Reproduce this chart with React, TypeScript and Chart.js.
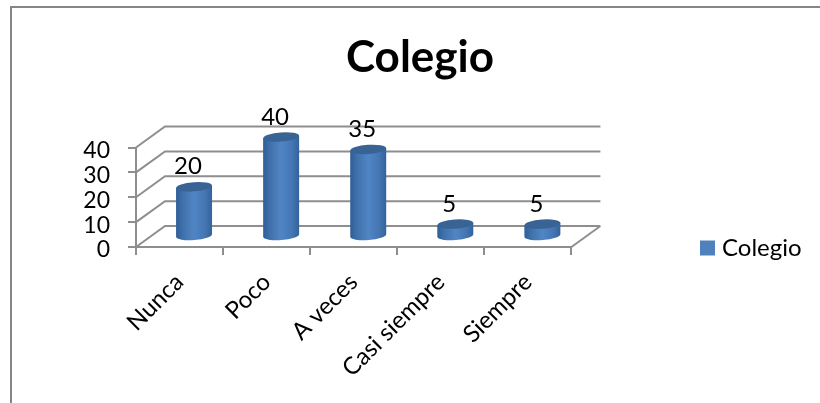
import React, { useEffect, useRef } from "react";
import { Chart, registerables } from "chart.js";

Chart.register(...registerables);

const categories = ["Nunca", "Poco", "A veces", "Casi siempre", "Siempre"];
const seriesName = "Colegio";
const values = [20, 40, 35, 5, 5];
const yTicks = [0, 10, 20, 30, 40];

const FONT = "Lato, Carlito, 'Noto Sans', sans-serif";
const GRID = "#8e8e8e";
const DEPTH_X = 29;
const DEPTH_Y = -21;
const LEGEND_PAD = 142;

const backdrop = {
  id: "backdrop",
  afterLayout(chart: any) {
    const l = chart.legend;
    l.left = 705 - LEGEND_PAD;
    l.right = 820;
    l.top = 236 - LEGEND_PAD;
    l.bottom = 403;
    const t = chart.titleBlock;
    t.left += 20;
    for (const item of chart.scales.y.getLabelItems(chart.chartArea)) {
      item.options.translation[1] += 3;
    }
  },
  beforeDraw(chart: any) {
    const c = chart.ctx;
    c.save();
    c.strokeStyle = "#868686";
    c.lineWidth = 2;
    c.beginPath();
    c.moveTo(11, 403);
    c.lineTo(11, 7);
    c.lineTo(820, 7);
    c.stroke();
    c.restore();
  },
  beforeDatasetsDraw(chart: any) {
    const c = chart.ctx;
    const { x, y } = chart.scales;
    c.save();
    c.strokeStyle = GRID;
    c.lineWidth = 2;
    c.beginPath();
    for (const v of yTicks) {
      const py = y.getPixelForValue(v);
      c.moveTo(x.left, py);
      c.lineTo(x.left + DEPTH_X, py + DEPTH_Y);
      c.lineTo(x.right + DEPTH_X, py + DEPTH_Y);
    }
    const floor = y.getPixelForValue(0);
    c.moveTo(x.right, floor);
    c.lineTo(x.right + DEPTH_X, floor + DEPTH_Y);
    c.stroke();
    c.restore();
  },
  beforeDatasetDraw(chart: any, args: any) {
    const c = chart.ctx;
    const bars = chart.getDatasetMeta(args.index).data;
    const tilt = -0.07;
    bars.forEach((bar: any, i: number) => {
      const cx = bar.x + DEPTH_X / 2;
      const top = bar.y + DEPTH_Y / 2;
      const base = bar.base + DEPTH_Y / 2;
      const rx = bar.width / 2;
      const ry = 4.6;
      const grad = c.createLinearGradient(cx - rx, 0, cx + rx, 0);
      grad.addColorStop(0, "#2f5e97");
      grad.addColorStop(0.18, "#3f70aa");
      grad.addColorStop(0.5, "#5085c4");
      grad.addColorStop(0.8, "#4476b2");
      grad.addColorStop(1, "#33639c");
      const lift = Math.sin(tilt) * rx;
      c.save();
      c.fillStyle = grad;
      c.beginPath();
      c.moveTo(cx - rx, top - lift);
      c.lineTo(cx + rx, top + lift);
      c.lineTo(cx + rx, base + lift);
      c.ellipse(cx, base, rx, ry, tilt, 0, Math.PI);
      c.closePath();
      c.fill();
      c.fillStyle = "#386394";
      c.beginPath();
      c.ellipse(cx, top, rx, ry, tilt, 0, Math.PI * 2);
      c.fill();
      c.fillStyle = "#000";
      c.font = `24px ${FONT}`;
      c.textAlign = "center";
      c.textBaseline = "middle";
      c.fillText(String(values[i]), cx - 6, top - 20);
      c.restore();
    });
    return false;
  },
};

export default function App() {
  const ref = useRef<HTMLCanvasElement | null>(null);
  useEffect(() => {
    const chart = new Chart(ref.current as HTMLCanvasElement, {
      type: "bar",
      data: {
        labels: categories,
        datasets: [
          {
            label: seriesName,
            data: values,
            backgroundColor: "#4f81bd",
            borderColor: "#4f81bd",
            borderWidth: 10,
            barThickness: 36,
          },
        ],
      },
      options: {
        responsive: false,
        animation: false,
        layout: { padding: 0 },
        plugins: {
          tooltip: { enabled: false },
          title: {
            display: true,
            text: "Colegio",
            color: "#000",
            font: { family: FONT, size: 44, weight: "bold", lineHeight: 1 },
            padding: { top: 36, bottom: 67.5 },
          },
          legend: {
            position: "right",
            align: "start",
            maxWidth: 250,
            labels: {
              padding: LEGEND_PAD,
              boxWidth: 5,
              boxHeight: 5,
              color: "#000",
              font: { family: FONT, size: 24 },
            },
          },
        },
        scales: {
          x: {
            afterFit(s: any) {
              s.height = 156;
            },
            grid: { drawOnChartArea: false, color: GRID, lineWidth: 2, tickLength: 8, offset: true },
            border: { color: GRID, width: 2 },
            ticks: {
              color: "#000",
              font: { family: FONT, size: 24 },
              maxRotation: 45,
              minRotation: 45,
              padding: 13,
              autoSkip: false,
            },
          },
          y: {
            min: 0,
            max: 40,
            afterFit(s: any) {
              s.width = 136;
            },
            grid: { drawOnChartArea: false, color: GRID, lineWidth: 2, tickLength: 8 },
            border: { color: GRID, width: 2 },
            afterBuildTicks(s: any) {
              s.ticks = yTicks.map((value) => ({ value }));
            },
            ticks: {
              color: "#000",
              font: { family: FONT, size: 23 },
              padding: 18,
              autoSkip: false,
            },
          },
        },
      },
      plugins: [backdrop],
    } as any);
    return () => chart.destroy();
  }, []);
  return (
    <div style={{ position: "absolute", left: 0, top: 0, width: 820, height: 403, background: "#fff" }}>
      <canvas ref={ref} width={820} height={403} style={{ display: "block" }} />
    </div>
  );
}
